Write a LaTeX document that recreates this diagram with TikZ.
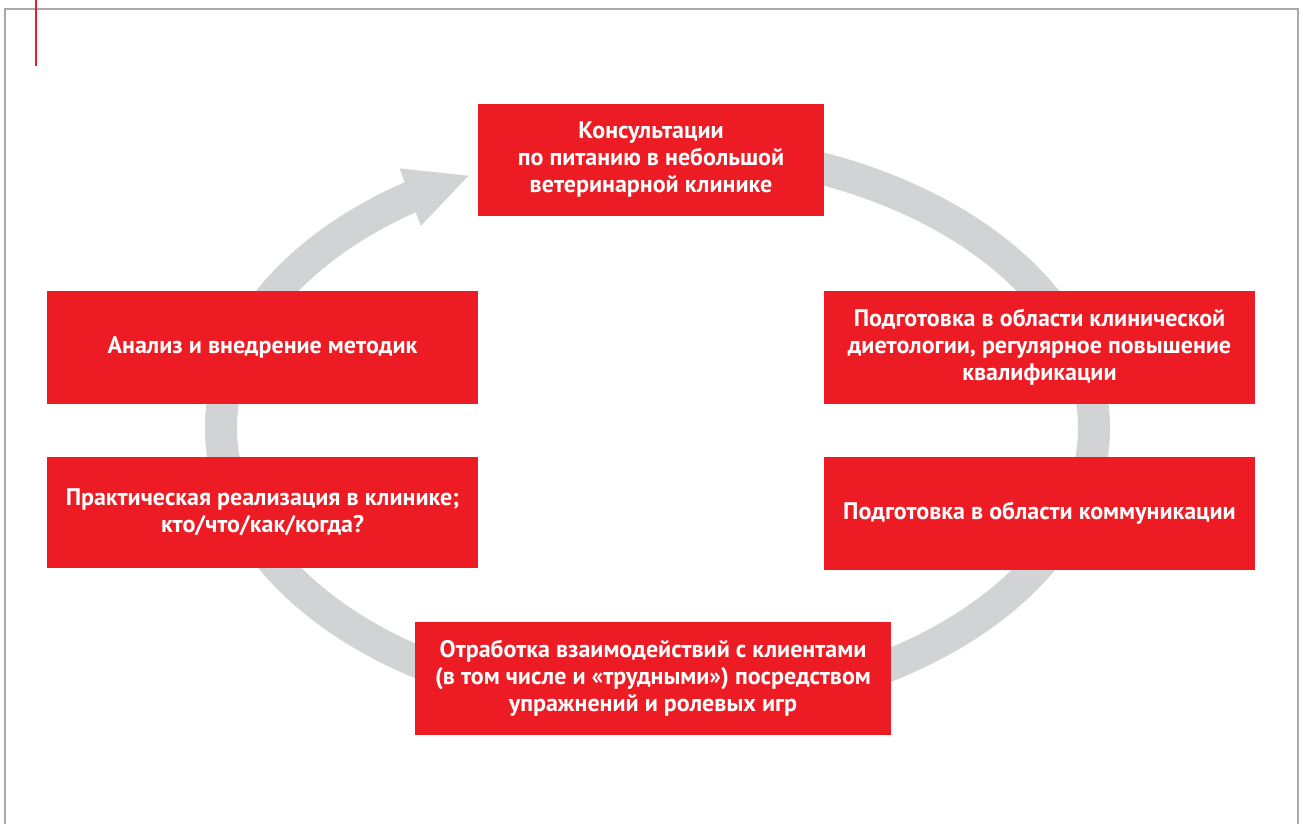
\documentclass[tikz,border=0pt]{standalone}
\usepackage{fontspec}
\setmainfont{PT Sans}
\usetikzlibrary{arrows.meta, bending}
\definecolor{cardred}{HTML}{ED1C24}
\definecolor{ringgray}{HTML}{D1D3D4}
\definecolor{framegray}{HTML}{A7A9AC}

\begin{document}
\begin{tikzpicture}[x=0.5pt, y=0.5pt, font=\bfseries\fontsize{12}{13.5}\selectfont,
  stage/.style={fill=cardred, text=white, align=center, inner sep=0pt, minimum height=56.5pt},
  ring/.style={draw=ringgray, line width=16pt}]

\useasboundingbox (0,0) rectangle (1303,824);

\draw[framegray, line width=1pt] (5,0) -- (5,815) -- (1298,815) -- (1298,0);
\draw[cardred, line width=0.8pt] (36,824) -- (36,758);

% ring behind the stages
\coordinate (c) at (657.5,396);
\draw[ring, -{Triangle[length=32pt, width=28pt, flex]}] (c) ++(450:436.5 and 280) arc[start angle=450, end angle=115.4, x radius=436.5, y radius=280];

\node[stage, minimum width=173pt, minimum height=56pt] (kons) at (651,664) {Консультации\\по питанию в небольшой\\ветеринарной клинике};
\node[stage, minimum width=215.5pt] (diet) at (1039.5,476.5) {Подготовка в области клинической\\диетологии, регулярное повышение\\квалификации};
\node[stage, minimum width=215.5pt] (komm) at (1039.5,310.5) {Подготовка в области коммуникации};
\node[stage, minimum width=238pt] (otrab) at (653,145.5) {Отработка взаимодействий с клиентами\\(в том числе и «трудными») посредством\\упражнений и ролевых игр};
\node[stage, minimum width=215.5pt, minimum height=55.5pt] (prakt) at (262.5,311.5) {Практическая реализация в клинике;\\кто/что/как/когда?};
\node[stage, minimum width=215.5pt] (analiz) at (262.5,476.5) {Анализ и внедрение методик};

\end{tikzpicture}
\end{document}
